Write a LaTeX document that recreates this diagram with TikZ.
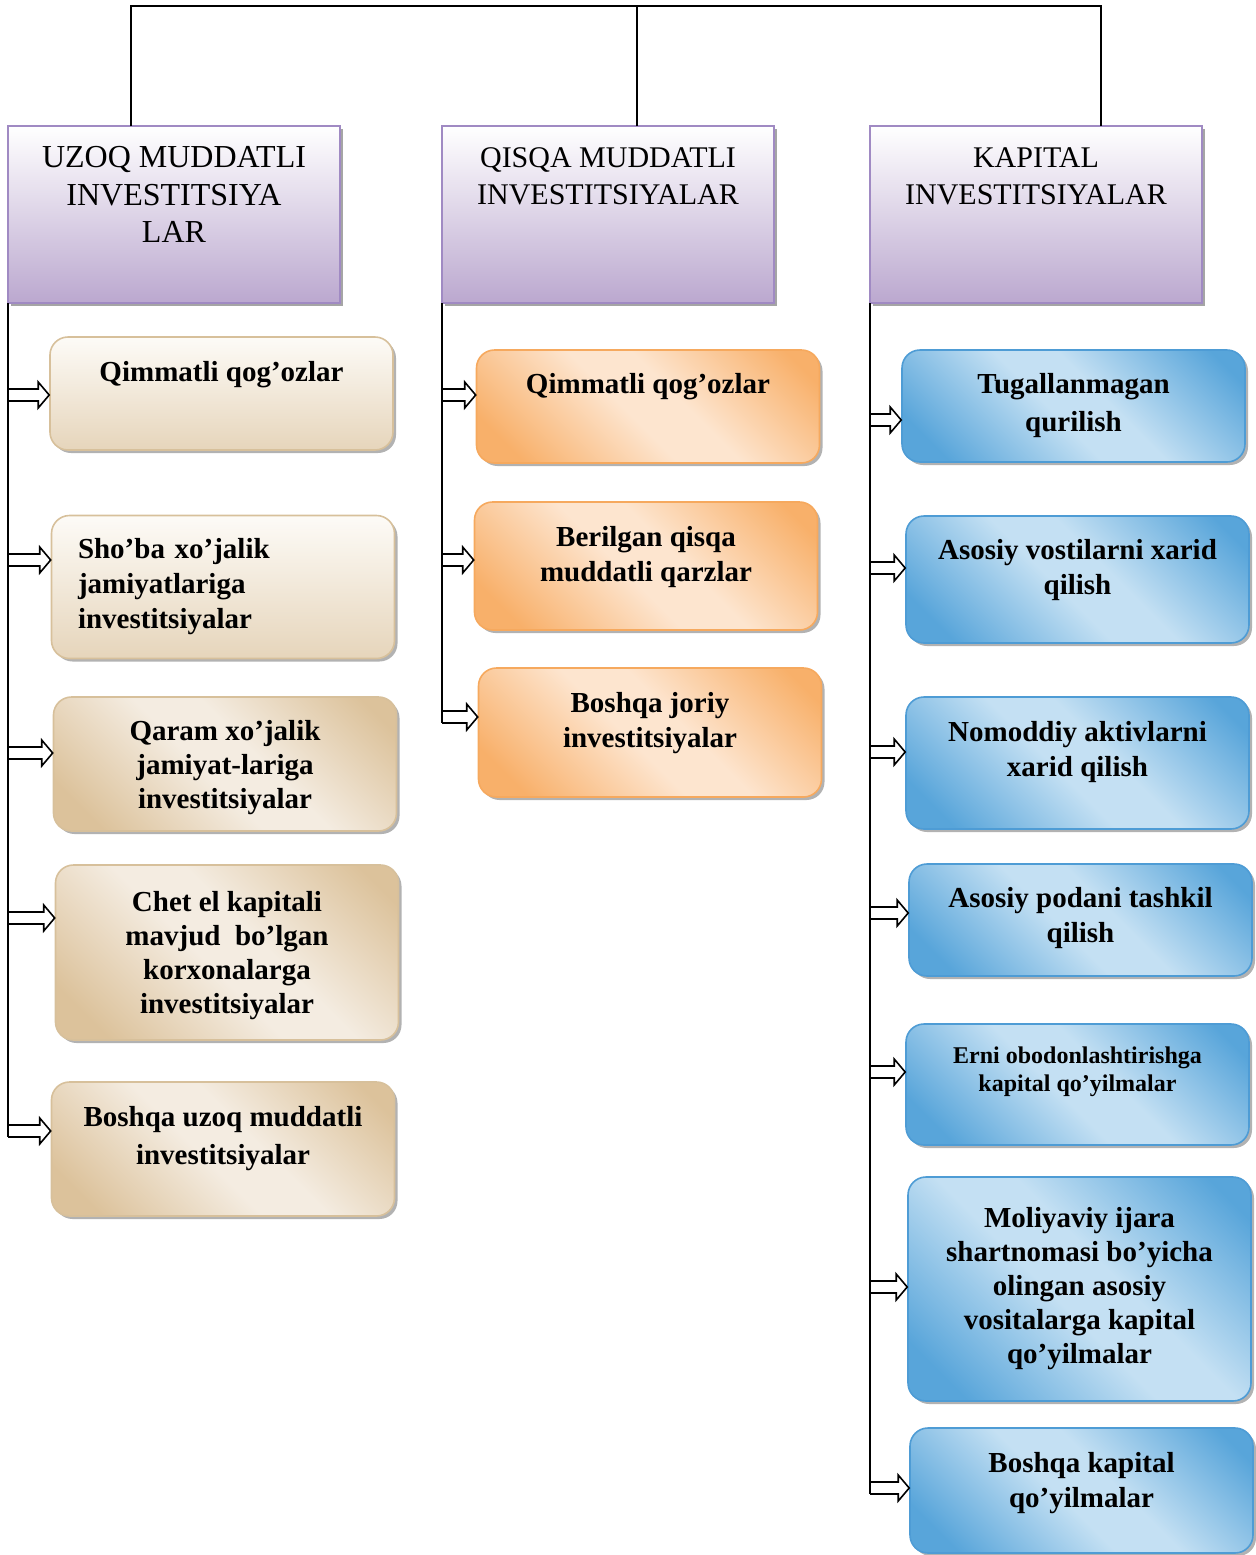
\documentclass[tikz,border=0pt]{standalone}
\usepackage{fontspec}
\setmainfont{Liberation Serif}
\usetikzlibrary{calc,shadows}
\definecolor{hdrline}{HTML}{A08AC3}
\definecolor{hdrfill}{HTML}{BBA8CF}
\definecolor{tanline}{HTML}{D7C09B}
\definecolor{tandark}{HTML}{DCC29B}
\definecolor{tanlight}{HTML}{F4ECE1}
\definecolor{tantop}{HTML}{FDFBF7}
\definecolor{tanbot}{HTML}{E6D5BB}
\definecolor{orline}{HTML}{F6A95E}
\definecolor{ordark}{HTML}{F8B06A}
\definecolor{orlight}{HTML}{FDE5CF}
\definecolor{blline}{HTML}{4E9CD5}
\definecolor{bldark}{HTML}{58A5DA}
\definecolor{bllight}{HTML}{C4E0F3}
\pgfdeclarehorizontalshading{diagtan}{100bp}{color(0bp)=(tandark); color(22bp)=(tandark); color(46bp)=(tanlight); color(56bp)=(tanlight); color(80bp)=(tandark); color(100bp)=(tandark)}
\pgfdeclarehorizontalshading{diagor}{100bp}{color(0bp)=(ordark); color(22bp)=(ordark); color(46bp)=(orlight); color(56bp)=(orlight); color(80bp)=(ordark); color(100bp)=(ordark)}
\pgfdeclarehorizontalshading{diagbl}{100bp}{color(0bp)=(bldark); color(22bp)=(bldark); color(46bp)=(bllight); color(56bp)=(bllight); color(80bp)=(bldark); color(100bp)=(bldark)}
% hollow block arrow from trunk point #1 to box point #2
\newcommand{\blockarrow}[2]{%
  \draw[barrow] ($(#1)+(0,-6)$) -- ($(#2)+(-11,-6)$) -- ($(#2)+(-11,-13)$) -- (#2)
    -- ($(#2)+(-11,13)$) -- ($(#2)+(-11,6)$) -- ($(#1)+(0,6)$);}
\begin{document}
\begin{tikzpicture}[x=0.5pt,y=-0.5pt,
  hdr/.style={draw=hdrline,line width=1pt,top color=white,bottom color=hdrfill,
    minimum width=166pt,minimum height=88.5pt,align=center,outer sep=0pt,
    font=\fontsize{16}{18.75}\selectfont,
    drop shadow={shadow xshift=1.5pt,shadow yshift=-1.5pt,fill=black!70}},
  box/.style={rounded corners=9pt,line width=0.8pt,minimum width=171.5pt,align=center,
    font=\fontsize{14.5}{17.5}\selectfont\bfseries,
    drop shadow={shadow xshift=1.5pt,shadow yshift=-1.5pt,fill=black!60}},
  tanbox/.style={box,draw=tanline,shading=diagtan,shading angle=45},
  tanvbox/.style={box,draw=tanline,top color=tantop,bottom color=tanbot},
  orbox/.style={box,draw=orline,shading=diagor,shading angle=45},
  blbox/.style={box,draw=blline,shading=diagbl,shading angle=45},
  conn/.style={line width=0.6pt},
  barrow/.style={line width=0.8pt,fill=white}]
\useasboundingbox (0,0) rectangle (1255,1555);
% headers
\node[hdr,text depth=20pt] (h1) at (174,214.5) {UZOQ MUDDATLI\\INVESTITSIYA\\LAR};
\node[hdr,text depth=38.5pt,font=\fontsize{15}{18.75}\selectfont] (h2) at (608,214.5) {QISQA MUDDATLI\\INVESTITSIYALAR};
\node[hdr,text depth=38.5pt,font=\fontsize{15}{18.75}\selectfont] (h3) at (1036,214.5) {KAPITAL\\INVESTITSIYALAR};
% long term
\node[tanvbox,minimum height=56.5pt,text depth=22.5pt] (l1) at (221.5,393.5) {Qimmatli qog’ozlar};
\node[tanvbox,minimum height=71.5pt,align=left,text width=145pt,inner xsep=13.25pt] (l2) at (223,587) {Sho’ba xo’jalik\\jamiyatlariga\\investitsiyalar};
\node[tanbox,minimum height=67pt,text depth=-2pt,font=\fontsize{14.5}{17}\selectfont\bfseries] (l3) at (225,764) {Qaram xo’jalik\\jamiyat-lariga\\investitsiyalar};
\node[tanbox,minimum height=87.5pt,text depth=0pt,font=\fontsize{14.5}{17}\selectfont\bfseries] (l4) at (227,952.5) {Chet el kapitali\\mavjud\ \ bo’lgan\\korxonalarga\\investitsiyalar};
\node[tanbox,minimum height=67pt,text depth=14pt] (l5) at (223,1149) {Boshqa uzoq muddatli\\[1.5pt]investitsiyalar};
% short term
\node[orbox,minimum height=56.5pt,text depth=23.5pt] (m1) at (648,406.5) {Qimmatli qog’ozlar};
\node[orbox,minimum height=64pt,text depth=12.5pt] (m2) at (646,566) {Berilgan qisqa\\muddatli qarzlar};
\node[orbox,minimum height=64.5pt,text depth=13pt] (m3) at (650,732.5) {Boshqa joriy\\investitsiyalar};
% capital
\node[blbox,minimum height=56pt,text depth=4pt] (r1) at (1073.5,406) {Tugallanmagan\\[1.5pt]qurilish};
\node[blbox,minimum height=63.5pt,text depth=13pt] (r2) at (1077.5,579.5) {Asosiy vostilarni xarid\\qilish};
\node[blbox,minimum height=66pt,text depth=14.5pt] (r3) at (1077.5,763) {Nomoddiy aktivlarni\\xarid qilish};
\node[blbox,minimum height=56pt,text depth=5.5pt] (r4) at (1080.5,920) {Asosiy podani tashkil\\qilish};
\node[blbox,minimum height=60.5pt,text depth=15.5pt,font=\fontsize{12}{14}\selectfont\bfseries] (r5) at (1077.5,1084.5) {Erni obodonlashtirishga\\kapital qo’yilmalar};
\node[blbox,minimum height=112pt,text depth=4pt,font=\fontsize{14.5}{17}\selectfont\bfseries] (r6) at (1079.5,1289) {Moliyaviy ijara\\shartnomasi bo’yicha\\olingan asosiy\\vositalarga kapital\\qo’yilmalar};
\node[blbox,minimum height=62.5pt,text depth=10.5pt] (r7) at (1081.5,1490.5) {Boshqa kapital\\qo’yilmalar};
% top bracket
\coordinate (t1) at (131,6);
\coordinate (t2) at (637,6);
\coordinate (t3) at (1101,6);
\draw[conn] (h1.north -| t1) -- (t1) -- (t3) -- (h3.north -| t3);
\draw[conn] (t2) -- (h2.north -| t2);
% arrows
\foreach \y/\b in {395/l1,560/l2,753/l3,918/l4,1131/l5}{
  \coordinate (yy) at (0,\y);
  \coordinate (s) at (h1.south west |- yy);
  \coordinate (e) at (\b.west |- yy);
  \blockarrow{s}{e}}
\foreach \y/\b in {395/m1,560/m2,717/m3}{
  \coordinate (yy) at (0,\y);
  \coordinate (s) at (h2.south west |- yy);
  \coordinate (e) at (\b.west |- yy);
  \blockarrow{s}{e}}
\foreach \y/\b in {420/r1,568/r2,752/r3,913/r4,1072/r5,1287/r6,1488/r7}{
  \coordinate (yy) at (0,\y);
  \coordinate (s) at (h3.south west |- yy);
  \coordinate (e) at (\b.west |- yy);
  \blockarrow{s}{e}}
% trunks
\coordinate (lend) at (0,1137);
\coordinate (mend) at (0,723);
\coordinate (rend) at (0,1494);
\draw[conn] (h1.south west) -- (h1.south west |- lend);
\draw[conn] (h2.south west) -- (h2.south west |- mend);
\draw[conn] (h3.south west) -- (h3.south west |- rend);
\end{tikzpicture}
\end{document}
